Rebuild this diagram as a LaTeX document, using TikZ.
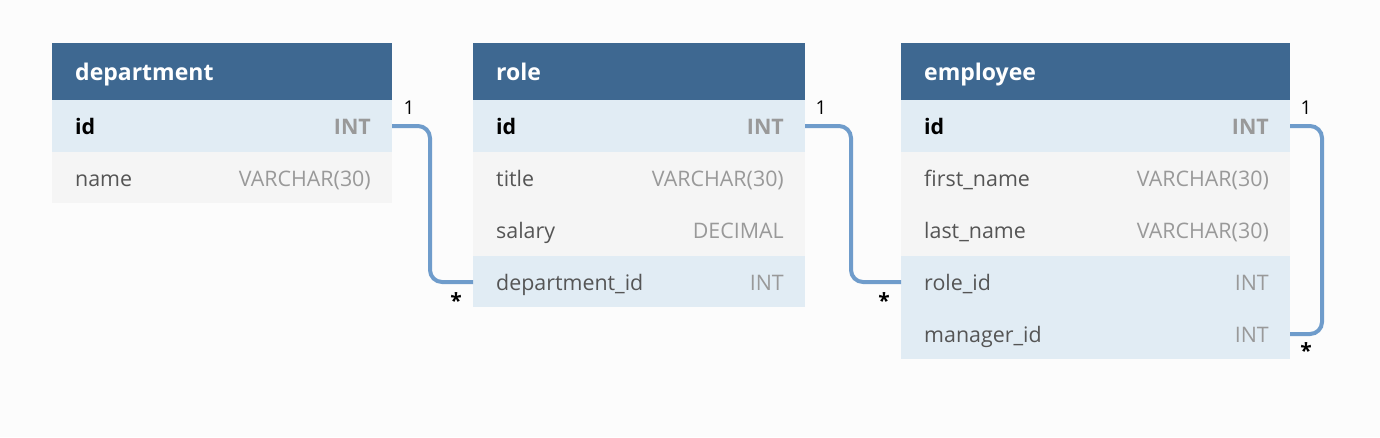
\documentclass[tikz,border=0pt]{standalone}
\usepackage{fontspec}
\setmainfont{Open Sans}
\begin{document}
\begin{tikzpicture}[x=1pt,y=-1pt,
  hdr/.style={fill=hdrc,draw=none},
  keyrow/.style={fill=keyc,draw=none},
  row/.style={fill=rowc,draw=none},
  ttl/.style={anchor=base west,text=white,font=\fontsize{23}{27}\selectfont\bfseries,inner sep=0},
  fname/.style={anchor=base west,text=fnc,font=\fontsize{21.4}{25}\selectfont,inner sep=0},
  fkey/.style={anchor=base west,text=black,font=\fontsize{21.4}{25}\selectfont\bfseries,inner sep=0},
  ftype/.style={anchor=base east,text=tyc,font=\fontsize{21.4}{25}\selectfont,inner sep=0},
  ftypek/.style={anchor=base east,text=tyc,font=\fontsize{21.4}{25}\selectfont\bfseries,inner sep=0},
  rel/.style={draw=relc,line width=4pt,rounded corners=12pt},
  card/.style={text=black,font=\fontsize{19}{22}\selectfont,inner sep=0},
  cardstar/.style={text=black,font=\fontsize{21}{24}\selectfont\bfseries,inner sep=0}
]
\definecolor{bgc}{HTML}{FCFCFC}
\definecolor{hdrc}{HTML}{3E6891}
\definecolor{keyc}{HTML}{E1ECF4}
\definecolor{rowc}{HTML}{F5F5F5}
\definecolor{fnc}{HTML}{555555}
\definecolor{tyc}{HTML}{999999}
\definecolor{relc}{HTML}{6F9CCB}
\fill[bgc] (0,0) rectangle (1380,437);
\useasboundingbox (0,0) rectangle (1380,437);

% department
\fill[hdr] (52,43) rectangle (392,100);
\fill[keyrow] (52,100) rectangle (392,152);
\fill[row] (52,152) rectangle (392,203);
\node[ttl] (dt) at (75,80) {department};
\node[fkey] (dn1) at (75,134) {id};
\node[ftypek] (dtid) at (371,134) {INT};
\node[fname] (dn2) at (75,186) {name};
\node[ftype] (dt2) at (371,186) {VARCHAR(30)};
\coordinate (deptid) at (392,126);

% role
\fill[hdr] (473,43) rectangle (805,100);
\fill[keyrow] (473,100) rectangle (805,152);
\fill[row] (473,152) rectangle (805,256);
\fill[keyrow] (473,256) rectangle (805,307);
\node[ttl] (rt) at (496,80) {role};
\node[fkey] (rn1) at (496,134) {id};
\node[ftypek] (rt1) at (784,134) {INT};
\node[fname] (rn2) at (496,186) {title};
\node[ftype] (rt2) at (784,186) {VARCHAR(30)};
\node[fname] (rn3) at (496,238) {salary};
\node[ftype] (rt3) at (784,238) {DECIMAL};
\node[fname] (rn4) at (496,290) {department\_id};
\node[ftype] (rt4) at (784,290) {INT};
\coordinate (roleid) at (805,126);
\coordinate (roledep) at (473,282);

% employee
\fill[hdr] (901,43) rectangle (1290,100);
\fill[keyrow] (901,100) rectangle (1290,152);
\fill[row] (901,152) rectangle (1290,256);
\fill[keyrow] (901,256) rectangle (1290,359);
\node[ttl] (et) at (924,80) {employee};
\node[fkey] (en1) at (924,134) {id};
\node[ftypek] (et1) at (1269,134) {INT};
\node[fname] (en2) at (924,186) {first\_name};
\node[ftype] (et2) at (1269,186) {VARCHAR(30)};
\node[fname] (en3) at (924,238) {last\_name};
\node[ftype] (et3) at (1269,238) {VARCHAR(30)};
\node[fname] (en4) at (924,290) {role\_id};
\node[ftype] (et4) at (1269,290) {INT};
\node[fname] (en5) at (924,342) {manager\_id};
\node[ftype] (et5) at (1269,342) {INT};
\coordinate (empid) at (1290,126);
\coordinate (emprole) at (901,282);
\coordinate (empmgr) at (1290,334);

% relations
\draw[rel] (deptid) -| (430,200) |- (roledep);
\draw[rel] (roleid) -| (851,200) |- (emprole);
\draw[rel] (empid) -| (1322,230) |- (empmgr);

\node[card] (c1) at (409,108) {1};
\node[cardstar] (c2) at (456,301) {*};
\node[card] (c3) at (821,108) {1};
\node[cardstar] (c4) at (884,301) {*};
\node[card] (c5) at (1306,108) {1};
\node[cardstar] (c6) at (1306,351) {*};
\end{tikzpicture}
\end{document}
